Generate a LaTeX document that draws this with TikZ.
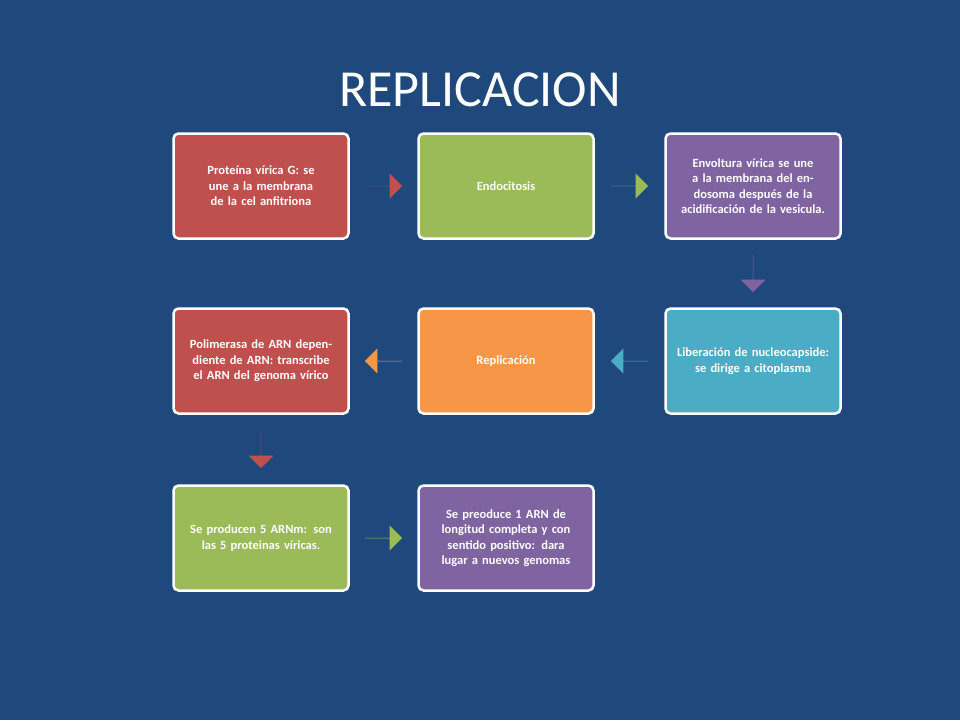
\documentclass[tikz,border=0pt]{standalone}
\usepackage{fontspec}
\setmainfont{Carlito}
\usetikzlibrary{shapes.arrows,positioning,calc}
\definecolor{bg}{HTML}{1F497D}
\definecolor{cred}{HTML}{C0504D}
\definecolor{cgreen}{HTML}{9BBB59}
\definecolor{cpurple}{HTML}{8064A2}
\definecolor{caqua}{HTML}{4BACC6}
\definecolor{corange}{HTML}{F79646}
\tikzset{
	stepbox/.style={draw=white, line width=2.5pt, rounded corners=5pt,
		minimum width=175pt, minimum height=105pt, text width=160pt,
		align=center, text=white, font=\bfseries\fontsize{12.5}{15.5}\selectfont},
	blockarrow/.style={single arrow, draw=none, fill=#1, minimum height=37pt,
		minimum width=25pt, single arrow head extend=10pt, inner sep=0pt}
}
\begin{document}
\begin{tikzpicture}[x=1pt,y=1pt]
	\fill[bg] (0,0) rectangle (960,-720);
	\useasboundingbox (0,0) rectangle (960,-720);

	% Title
	\node[text=white, font=\fontsize{52}{60}\selectfont] (title) at (480,-90) {REPLICACION};

	% Boxes
		% first row
		\node[stepbox, fill=cred] (prot) at (261,-186) {Proteína vírica G: se une a la membrana de la cel anfitriona};
		\node[stepbox, fill=cgreen] (endo) at (506,-186) {Endocitosis};
		\node[stepbox, fill=cpurple] (envo) at (753,-186) {Envoltura vírica se une a la membrana del endosoma después de la acidificación de la vesicula.};
		% second row
		\node[stepbox, fill=caqua] (libe) at (753,-361) {Liberación de nucleocapside: se dirige a citoplasma};
		\node[stepbox, fill=corange] (repl) at (506,-361) {Replicación};
		\node[stepbox, fill=cred] (poli) at (261,-361) {Polimerasa de ARN dependiente de ARN: transcribe el ARN del genoma vírico};
		% third row
		\node[stepbox, fill=cgreen] (arnm) at (261,-538) {Se producen 5 ARNm: son las 5 proteinas víricas.};
		\node[stepbox, fill=cpurple] (geno) at (506,-538) {Se preoduce 1 ARN de longitud completa y con sentido positivo: dara lugar a nuevos genomas};

	% Arrows
		\node[blockarrow=cred] (a1) at ($(prot.east)!0.5!(endo.west)$) {};
		\node[blockarrow=cgreen] (a2) at ($(endo.east)!0.5!(envo.west)$) {};
		\node[blockarrow=cpurple, shape border rotate=270] (a3) at ($(envo.south)!0.5!(libe.north)$) {};
		\node[blockarrow=caqua, shape border rotate=180] (a4) at ($(libe.west)!0.5!(repl.east)$) {};
		\node[blockarrow=corange, shape border rotate=180] (a5) at ($(repl.west)!0.5!(poli.east)$) {};
		\node[blockarrow=cred, shape border rotate=270] (a6) at ($(poli.south)!0.5!(arnm.north)$) {};
		\node[blockarrow=cgreen] (a7) at ($(arnm.east)!0.5!(geno.west)$) {};
\end{tikzpicture}
\end{document}
